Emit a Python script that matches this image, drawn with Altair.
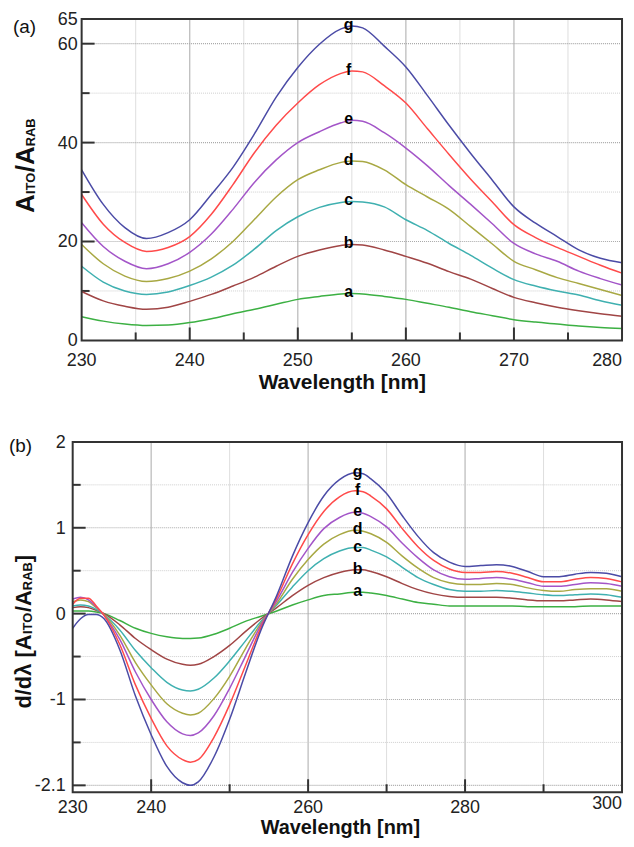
import altair as alt
import pandas as pd

# ---------------- panel (a) ----------------
wl_top = [230, 232, 234, 236, 238, 240, 242, 244, 246, 248, 250, 252, 254, 255, 256,
          258, 260, 262, 264, 266, 268, 270, 272, 274, 276, 278, 280]
top_a = [4.8, 3.9, 3.3, 3.0, 3.1, 3.6, 4.4, 5.4, 6.3, 7.3, 8.3, 8.9, 9.4, 9.5, 9.4,
         8.9, 8.3, 7.5, 6.7, 5.8, 5.0, 4.2, 3.7, 3.3, 2.9, 2.6, 2.4]
top_b = [9.9, 8.0, 6.9, 6.3, 6.7, 7.9, 9.3, 11.0, 12.8, 15.0, 17.0, 18.3, 19.2, 19.4, 19.3,
         18.3, 17.0, 15.6, 13.9, 12.4, 10.5, 8.7, 7.6, 6.7, 6.0, 5.4, 4.9]
top_c = [15.0, 11.8, 10.0, 9.3, 9.8, 11.1, 12.8, 15.2, 18.5, 22.2, 25.0, 26.9, 27.9, 28.1, 28.0,
         27.0, 24.4, 22.2, 19.6, 17.2, 14.6, 12.3, 11.0, 10.0, 9.2, 8.0, 7.1]
top_d = [19.4, 15.5, 13.0, 11.9, 12.5, 14.0, 16.5, 20.0, 24.5, 29.0, 32.5, 34.5, 36.0, 36.3, 36.2,
         34.5, 31.5, 29.0, 26.5, 23.0, 19.5, 16.0, 14.3, 12.7, 11.5, 10.3, 9.1]
top_e = [23.8, 19.0, 16.0, 14.5, 15.5, 17.8, 21.5, 26.5, 32.0, 36.5, 40.0, 42.2, 44.0, 44.5, 44.3,
         42.0, 38.9, 35.3, 31.3, 27.5, 23.6, 19.6, 17.5, 16.0, 14.0, 12.5, 11.2]
top_f = [29.5, 23.5, 19.8, 18.0, 18.8, 21.0, 25.5, 31.5, 38.0, 43.5, 48.0, 51.7, 54.0, 54.5, 54.3,
         51.5, 48.0, 42.8, 37.6, 32.6, 28.0, 23.4, 20.8, 18.8, 17.0, 15.2, 13.6]
top_g = [34.5, 27.5, 22.8, 20.6, 21.8, 24.4, 29.5, 35.0, 41.8, 49.2, 55.2, 59.9, 63.0, 63.6, 63.2,
         59.5, 55.3, 49.5, 43.5, 37.8, 32.4, 27.0, 23.7, 21.0, 18.3, 16.6, 15.7]

# ---------------- panel (b) ----------------
wl_bot = [230, 231, 232, 233, 234, 236, 238, 240, 242, 244, 245, 246, 248, 250, 252, 254,
          256, 258, 260, 262, 264, 266, 267, 268, 270, 272, 274, 276, 278, 280,
          282, 284, 286, 288, 290, 292, 294, 296, 298, 300]
bot_a = [0.03, 0.03, 0.03, 0.02, 0.0, -0.08, -0.17, -0.23, -0.27, -0.29, -0.29, -0.285, -0.24, -0.17, -0.09, -0.03,
         0.03, 0.10, 0.16, 0.21, 0.23, 0.25, 0.25, 0.24, 0.21, 0.17, 0.13, 0.11, 0.09, 0.09,
         0.09, 0.09, 0.09, 0.08, 0.08, 0.08, 0.08, 0.09, 0.09, 0.09]
bot_b = [0.07, 0.08, 0.07, 0.04, 0.0, -0.13, -0.29, -0.42, -0.53, -0.59, -0.60, -0.59, -0.50, -0.37, -0.21, -0.06,
         0.07, 0.21, 0.33, 0.42, 0.48, 0.51, 0.51, 0.49, 0.43, 0.35, 0.28, 0.23, 0.20, 0.19,
         0.19, 0.19, 0.18, 0.16, 0.15, 0.15, 0.16, 0.17, 0.16, 0.14]
bot_c = [0.09, 0.10, 0.09, 0.05, -0.01, -0.19, -0.43, -0.63, -0.80, -0.89, -0.90, -0.88, -0.75, -0.55, -0.32, -0.09,
         0.10, 0.31, 0.50, 0.64, 0.73, 0.77, 0.77, 0.74, 0.66, 0.54, 0.42, 0.34, 0.28, 0.26,
         0.26, 0.27, 0.26, 0.24, 0.22, 0.21, 0.22, 0.23, 0.22, 0.19]
bot_d = [0.14, 0.16, 0.14, 0.07, -0.01, -0.25, -0.57, -0.83, -1.05, -1.16, -1.18, -1.16, -0.99, -0.73, -0.41, -0.11,
         0.12, 0.40, 0.63, 0.81, 0.92, 0.97, 0.96, 0.93, 0.83, 0.67, 0.53, 0.42, 0.36, 0.34,
         0.34, 0.35, 0.34, 0.30, 0.27, 0.26, 0.28, 0.29, 0.29, 0.26]
bot_e = [0.17, 0.19, 0.16, 0.08, -0.02, -0.30, -0.68, -1.00, -1.26, -1.40, -1.42, -1.39, -1.19, -0.87, -0.50, -0.13,
         0.15, 0.48, 0.76, 0.99, 1.12, 1.18, 1.17, 1.13, 1.01, 0.82, 0.65, 0.51, 0.43, 0.40,
         0.41, 0.42, 0.40, 0.36, 0.32, 0.32, 0.34, 0.36, 0.35, 0.32]
bot_f = [0.11, 0.18, 0.18, 0.09, -0.02, -0.36, -0.83, -1.22, -1.54, -1.70, -1.73, -1.70, -1.44, -1.06, -0.61, -0.16,
         0.18, 0.58, 0.92, 1.19, 1.36, 1.43, 1.42, 1.37, 1.22, 0.99, 0.78, 0.62, 0.52, 0.48,
         0.48, 0.49, 0.47, 0.42, 0.37, 0.37, 0.40, 0.42, 0.41, 0.37]
bot_g = [-0.17, -0.06, -0.01, -0.01, -0.06, -0.42, -0.96, -1.41, -1.78, -1.97, -2.0, -1.96, -1.67, -1.23, -0.70, -0.19,
         0.21, 0.67, 1.06, 1.37, 1.56, 1.64, 1.63, 1.57, 1.40, 1.14, 0.90, 0.71, 0.60, 0.55,
         0.56, 0.57, 0.55, 0.49, 0.43, 0.43, 0.46, 0.48, 0.47, 0.43]

curves = ["a", "b", "c", "d", "e", "f", "g"]
colors = ["#3cb043", "#a04545", "#3fb0b0", "#a8a843", "#a355c8", "#ff4a4a", "#4b4ba6"]

# tick labels / grid / tick positions
top_x_labels = [230, 240, 250, 260, 270, 280]
top_y_labels = [0, 20, 40, 60, 65]
top_x_major = [240, 250, 260, 270]
top_x_minor = [235, 245, 255, 265, 275]
top_y_major = [20, 40, 60]
top_y_minor = [10, 30, 50]
top_label_wl = 254.7

bot_x_labels = [230, 240, 260, 280, 300]
bot_y_labels = [-2, -1, 0, 1, 2]
bot_y_label_text = ["-2.1", "-1", "0", "1", "2"]
bot_x_major = [240, 260, 280]
bot_x_minor = [250, 270, 290]
bot_y_major = [-2, -1, 0, 1]
bot_y_minor = [-1.5, -0.5, 0.5, 1.5]
bot_label_wl = 266.3

FONT = "Liberation Sans"
one = pd.DataFrame({"d": [0]})
W = 552  # common group width; both groups start at page x = 72


def long_form(wl, series):
    rows = []
    for c, vals in zip(curves, series):
        for w, v in zip(wl, vals):
            rows.append({"wl": w, "v": v, "curve": c})
    return pd.DataFrame(rows)


def panel(wl, series, xdom, ydom, H, P):
    x0 = P["x0"]
    xs = alt.Scale(domain=xdom, range=[x0, W], nice=False, zero=False)
    ys = alt.Scale(domain=ydom, nice=False, zero=False)
    X = lambda: alt.X("wl:Q", scale=xs, axis=None)
    Y = lambda: alt.Y("v:Q", scale=ys, axis=None)
    L = []
    # grid
    L.append(alt.Chart(pd.DataFrame({"wl": P["xmin"]})).mark_rule(color="#dedede", strokeWidth=1).encode(x=X()))
    L.append(alt.Chart(pd.DataFrame({"wl": P["xmaj"]})).mark_rule(color="#bdbdbd", strokeWidth=1.3).encode(x=X()))
    L.append(alt.Chart(pd.DataFrame({"v": P["ymin"]})).mark_rule(color="#cfcfcf", strokeWidth=1, strokeDash=[1, 1])
             .encode(y=Y(), x=alt.value(x0), x2=alt.value(W)))
    L.append(alt.Chart(pd.DataFrame({"v": P["ymaj"]})).mark_rule(color="#a9a9a9", strokeWidth=1.2, strokeDash=[1, 1])
             .encode(y=Y(), x=alt.value(x0), x2=alt.value(W)))
    # inward ticks
    for vals, ln in ((P["xmaj"], 13), (P["xmin"], 8)):
        L.append(alt.Chart(pd.DataFrame({"wl": vals})).mark_rule(color="#333333", strokeWidth=2)
                 .encode(x=X(), y=alt.value(H), y2=alt.value(H - ln)))
    for vals, ln in ((P["ymaj"], 13), (P["ymin"], 8)):
        L.append(alt.Chart(pd.DataFrame({"v": vals})).mark_rule(color="#333333", strokeWidth=2)
                 .encode(y=Y(), x=alt.value(x0), x2=alt.value(x0 + ln)))
    # curves
    L.append(alt.Chart(long_form(wl, series)).mark_line(strokeWidth=1.5, interpolate="monotone")
             .encode(x=X(), y=Y(),
                     color=alt.Color("curve:N", scale=alt.Scale(domain=curves, range=colors), legend=None),
                     detail="curve:N"))
    # frame
    L.append(alt.Chart(one).mark_rect(filled=False, stroke="#333333", strokeWidth=2)
             .encode(x=alt.value(x0), x2=alt.value(W), y=alt.value(0), y2=alt.value(H)))
    # curve letters at the peaks
    lab = pd.DataFrame({"wl": [P["label_wl"]] * len(curves), "v": [max(s) for s in series], "t": curves})
    L.append(alt.Chart(lab).mark_text(font=FONT, fontSize=16, fontWeight="bold", color="#000000",
                                      baseline="middle", dy=-1)
             .encode(x=X(), y=Y(), text="t:N"))
    # x tick labels (last one flush right)
    xl = P["xlabels"]
    L.append(alt.Chart(pd.DataFrame({"wl": xl[:-1], "t": [str(v) for v in xl[:-1]]}))
             .mark_text(font=FONT, fontSize=18, color="#222222", baseline="alphabetic", align="center")
             .encode(x=X(), y=alt.value(H + P["xlab_dy"]), text="t:N"))
    L.append(alt.Chart(pd.DataFrame({"wl": xl[-1:], "t": [str(xl[-1])]}))
             .mark_text(font=FONT, fontSize=18, color="#222222", baseline="alphabetic", align="right",
                        dy=P["last_dy"])
             .encode(x=X(), y=alt.value(H + P["xlab_dy"]), text="t:N"))
    # y tick labels
    L.append(alt.Chart(pd.DataFrame({"v": P["ylabels"], "t": P["ytexts"]}))
             .mark_text(font=FONT, fontSize=18, color="#222222", baseline="middle", align="right", dy=1)
             .encode(y=Y(), x=alt.value(x0 - P["ylab_pad"]), text="t:N"))
    # x title
    L.append(alt.Chart(one).mark_text(text="Wavelength [nm]", font=FONT, fontSize=P["xtitle_size"],
                                      fontWeight="bold", color="#111111", align="center", baseline="alphabetic")
             .encode(x=alt.value(P["xtitle_x"]), y=alt.value(H + P["xtitle_dy"])))
    # panel tag and y-title pieces
    for txt, px, py, size, weight, angle in P["pieces"]:
        L.append(alt.Chart(one).mark_text(text=txt, font=FONT, fontSize=size, fontWeight=weight,
                                          color="#111111", angle=angle, align="left", baseline="alphabetic")
                 .encode(x=alt.value(px), y=alt.value(py)))
    return alt.layer(*L).properties(width=W, height=H)


# panel (a): plot frame page x 81..624, y 18..341  (group origin at page x 72)
top = panel(wl_top, [top_a, top_b, top_c, top_d, top_e, top_f, top_g], [230, 280], [0, 65], 323, {
    "x0": 9,
    "xmaj": top_x_major, "xmin": top_x_minor, "ymaj": top_y_major, "ymin": top_y_minor,
    "label_wl": top_label_wl, "xlabels": top_x_labels, "xlab_dy": 26, "last_dy": 0,
    "ylabels": top_y_labels, "ytexts": [str(v) for v in top_y_labels], "ylab_pad": 4,
    "xtitle_x": 271, "xtitle_dy": 49, "xtitle_size": 21,
    "pieces": [
        ("(a)", -60, 14, 19, "normal", 0),
        ("A", -39, 195, 26, "bold", 270),
        ("ITO", -38, 176, 13, "bold", 270),
        ("/A", -39, 154, 26, "bold", 270),
        ("RAB", -38, 128, 13, "bold", 270),
    ]})

# panel (b): plot frame page x 72..624, y ~441..793
bottom = panel(wl_bot, [bot_a, bot_b, bot_c, bot_d, bot_e, bot_f, bot_g], [230, 300], [-2.08, 2], 352, {
    "x0": 0,
    "xmaj": bot_x_major, "xmin": bot_x_minor, "ymaj": bot_y_major, "ymin": bot_y_minor,
    "label_wl": bot_label_wl, "xlabels": bot_x_labels, "xlab_dy": 21, "last_dy": -4,
    "ylabels": bot_y_labels, "ytexts": bot_y_label_text, "ylab_pad": 7,
    "xtitle_x": 269, "xtitle_dy": 42, "xtitle_size": 20,
    "pieces": [
        ("(b)", -64, 10, 19, "normal", 0),
        ("d/dλ [A", -42, 268, 22, "bold", 270),
        ("ITO", -41, 193, 13, "bold", 270),
        ("/A", -42, 171, 22, "bold", 270),
        ("RAB", -41, 149, 13, "bold", 270),
        ("]", -42, 121, 22, "bold", 270),
    ]})

chart = (
    alt.vconcat(top, bottom, spacing=39)
    .properties(padding={"left": 0, "top": 0, "right": 0, "bottom": 0})
    .configure_view(stroke="transparent")
)

chart.save("out.html", embed_options={"renderer": "svg", "actions": False})
